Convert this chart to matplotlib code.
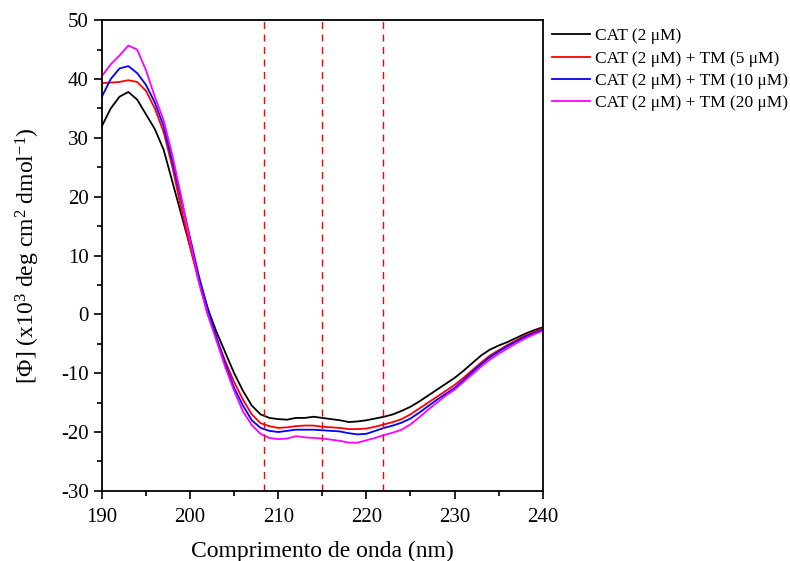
import matplotlib
matplotlib.use("Agg")
import matplotlib.pyplot as plt
import numpy as np

plt.rcParams['font.family'] = ['Liberation Serif', 'DejaVu Serif']
plt.rcParams['mathtext.fontset'] = 'custom'
plt.rcParams['mathtext.rm'] = 'Liberation Serif'
plt.rcParams['mathtext.it'] = 'Liberation Serif:italic'
plt.rcParams['axes.unicode_minus'] = False

wavelength = list(range(190, 241))

cat = [32, 35, 37, 37.8, 36.5, 34, 31.5, 28, 22.5, 17, 11.5, 6, 1, -3, -6.5, -10, -13, -15.5, -17,
       -17.6, -17.8, -17.9, -17.6, -17.6, -17.4, -17.6, -17.8, -18, -18.3, -18.2, -18, -17.7, -17.4,
       -17, -16.4, -15.7, -14.8, -13.8, -12.8, -11.8, -10.8, -9.6, -8.3, -7, -6, -5.3, -4.7, -4,
       -3.3, -2.7, -2.2]
cat_tm5 = [39.3, 39.4, 39.5, 39.8, 39.5, 38, 35, 31, 25, 18, 11.5, 5.5, 0, -4, -8, -11.5, -14.5,
           -17, -18.5, -19, -19.3, -19.2, -19, -18.9, -18.9, -19.1, -19.2, -19.3, -19.5, -19.5,
           -19.4, -19.1, -18.7, -18.3, -17.8, -17.0, -16, -15, -14, -13, -12, -10.8, -9.5, -8.2,
           -7, -6.1, -5.2, -4.4, -3.6, -3, -2.4]
cat_tm10 = [37, 40, 41.8, 42.2, 41, 39, 36, 32, 26, 19.5, 13, 6.5, 1, -4, -8.5, -12.5, -15.5, -18,
            -19.3, -19.8, -20, -19.8, -19.6, -19.6, -19.6, -19.7, -19.8, -19.9, -20.2, -20.4,
            -20.3, -19.8, -19.3, -18.9, -18.4, -17.7, -16.7, -15.6, -14.5, -13.5, -12.5, -11.2,
            -9.8, -8.5, -7.3, -6.3, -5.4, -4.6, -3.8, -3.2, -2.6]
cat_tm20 = [40.5, 42.5, 44, 45.7, 45, 41.5, 37, 33, 27, 20, 12.5, 5.5, 0, -4.5, -9, -13, -16.5,
            -18.8, -20.3, -21, -21.2, -21.1, -20.7, -20.9, -21, -21.1, -21.3, -21.5, -21.8, -21.8,
            -21.4, -21, -20.5, -20.1, -19.6, -18.7, -17.5, -16.2, -15, -13.8, -12.8, -11.5, -10.2,
            -8.9, -7.7, -6.7, -5.8, -4.9, -4.1, -3.4, -2.8]

labels = ['CAT (2 μM)', 'CAT (2 μM) + TM (5 μM)', 'CAT (2 μM) + TM (10 μM)', 'CAT (2 μM) + TM (20 μM)']
colors = ['black', 'red', 'blue', 'magenta']
ref_lines = [208.4, 215, 221.9]

fig = plt.figure(figsize=(7.9, 5.61), dpi=100)
ax = fig.add_axes([0.129, 0.125, 0.558, 0.839])

for y, lab, c in zip([cat, cat_tm5, cat_tm10, cat_tm20], labels, colors):
    ax.plot(wavelength, y, color=c, lw=1.3, label=lab)

for xv in ref_lines:
    ax.axvline(xv, color='red', ls=(0, (5, 4)), lw=1.0)

ax.set_xlim(190, 240)
ax.set_ylim(-30, 50)
ax.set_xticks(range(190, 241, 10))
ax.set_xticks(range(195, 240, 10), minor=True)
ax.set_yticks(range(-30, 51, 10))
ax.set_yticks(range(-25, 50, 10), minor=True)
ax.tick_params(axis='both', which='major', direction='out', length=6, width=1.2, labelsize=15)
ax.tick_params(axis='x', which='major', pad=6)
ax.tick_params(axis='both', which='minor', direction='out', length=3.5, width=1.2)
for s in ax.spines.values():
    s.set_linewidth(1.3)

ax.set_xlabel('Comprimento de onda (nm)', fontsize=17, labelpad=10)
ax.set_ylabel('[Φ] (x10$^{3}$ deg cm$^{2}$ dmol$^{-1}$)', fontsize=17, labelpad=14)

fig.legend(loc='upper left', bbox_to_anchor=(0.690, 0.962), frameon=False, fontsize=12.5,
           handlelength=2.2, handletextpad=0.3, labelspacing=0.35, borderaxespad=0.0)

fig.savefig('out.png', dpi=100)
